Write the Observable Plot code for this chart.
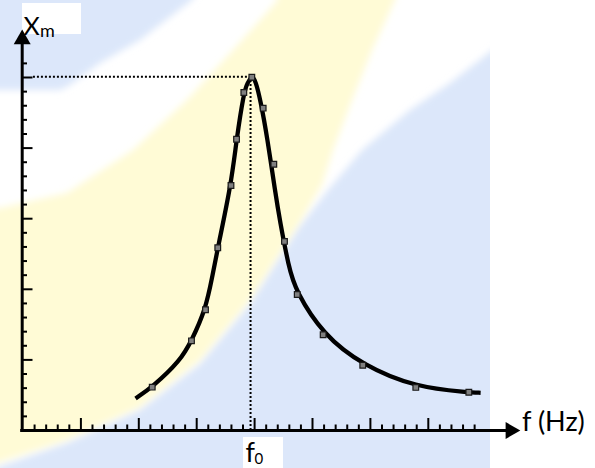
<!DOCTYPE html>
<html>
<head>
<meta charset="utf-8">
<script src="https://cdn.jsdelivr.net/npm/d3@7"></script>
<script src="https://cdn.jsdelivr.net/npm/@observablehq/plot@0.6"></script>
<style>
  html, body { margin: 0; padding: 0; background: #ffffff; }
  #chart { width: 595px; height: 468px; }
</style>
</head>
<body>
<div id="chart"></div>
<script>
// ---- data (frequency and amplitude in tick units) ----
// measured points (square markers)
const markerF = [11.16, 14.55, 15.76, 16.82, 17.96, 18.44, 19.07, 19.76, 20.74, 21.66, 22.58, 23.68, 25.92, 29.34, 33.92, 38.50];
const markerX = [3.07, 6.35, 8.55, 12.94, 17.35, 20.63, 23.94, 25.02, 22.83, 18.86, 13.39, 9.63, 6.78, 4.62, 3.05, 2.71];
// fitted curve (the apex is repeated so the smoothed line stays pointed there)
const curveF = [9.72, 11.16, 13.60, 14.55, 15.76, 16.34, 16.82, 17.96, 18.44, 19.07, 19.39, 19.78, 19.78, 19.78,
                20.08, 20.51, 21.09, 21.80, 22.18, 22.95, 23.53, 25.92, 29.34, 33.92, 38.50, 39.52];
const curveX = [2.27, 3.07, 4.96, 6.35, 8.55, 10.86, 12.94, 17.35, 20.61, 23.94, 24.65, 25.07, 25.07, 25.07,
                24.79, 23.37, 20.77, 16.78, 14.87, 11.57, 9.92, 6.78, 4.62, 3.05, 2.71, 2.67];
const f0 = 19.65;
const Xm = 25.05;
const xTicks = d3.range(1, 40);          // ticks on the f axis (every 5th is long)
const yTicks = d3.range(1, 27);          // ticks on the X axis (every 5th is long)
const labelY = "X", labelYSub = "m";
const labelX = "f (Hz)";
const labelF0 = "f", labelF0Sub = "0";
const xAxisEnd = 42.1, yAxisEnd = 27.7;

const markers = markerF.map((f, i) => ({f, x: markerX[i]}));
const curve = curveF.map((f, i) => ({f, x: curveX[i]}));

const W = 595, H = 468;
const mL = 22.5, mB = 38;
const plotH = H - mB;

// decorative background (soft coloured watermark shapes + label boxes)
function background() {
  const g = d3.create("svg:g");
  const defs = g.append("defs");
  defs.append("filter").attr("id", "soft").attr("filterUnits", "userSpaceOnUse")
    .attr("x", -100).attr("y", -100).attr("width", 800).attr("height", 700)
    .append("feGaussianBlur").attr("stdDeviation", 3.5);
  defs.append("clipPath").attr("id", "clipBg").append("rect")
    .attr("x", 0).attr("y", 0).attr("width", 490).attr("height", H);
  const outer = g.append("g").attr("clip-path", "url(#clipBg)");
  const inner = outer.append("g").attr("filter", "url(#soft)");
  const blue = "#dce7fa", yellow = "#fffbd6";
  const poly = (pts, fill) => inner.append("polygon").attr("points", pts.map(p => p.join(",")).join(" ")).attr("fill", fill);
  poly([[-40,-40],[215,-40],[192,0],[140,40],[100,63],[70,85],[60,90],[-40,90]], blue);
  poly([[270,-40],[410,-40],[395,0],[372,50],[352,100],[333,150],[322,185],[300,222],[250,300],[200,360],[140,407],[67,440],[-40,475],[-40,210],[0,208],[67,193],[133,150],[187,100],[233,50],[278,0]], yellow);
  poly([[540,20],[540,520],[-40,520],[-40,480],[67,443],[140,410],[200,364],[250,304],[300,226],[328,190],[362,150],[410,110],[450,83],[490,52],[540,20]], blue);
  g.append("rect").attr("x", 22).attr("y", 3).attr("width", 59).attr("height", 31).attr("fill", "#fff");
  g.append("rect").attr("x", 243).attr("y", 437).attr("width", 40).attr("height", 35).attr("fill", "#fff");
  return g.node();
}

const font = "Lato, 'Open Sans', 'DejaVu Sans', sans-serif";
const dots = {stroke: "black", strokeWidth: 2, strokeDasharray: "2,2"};

const chart = Plot.plot({
  width: W,
  height: H,
  marginLeft: mL,
  marginRight: 0,
  marginTop: 0,
  marginBottom: mB,
  style: {background: "transparent", fontFamily: font},
  x: {domain: [0, (W - mL) / 11.58], axis: null},
  y: {domain: [0, plotH / 14.12], axis: null},
  marks: [
    background,
    // dotted guides to the peak
    Plot.ruleY([Xm], {x1: 0.9, x2: f0, ...dots}),
    Plot.ruleX([f0], {y1: 0, y2: Xm, ...dots}),
    // short / long ticks
    Plot.tickY(yTicks.filter(d => d % 5 !== 0), {y: d => d, stroke: "black", strokeWidth: 2, insetRight: W - mL - 4.5}),
    Plot.tickY(yTicks.filter(d => d % 5 === 0), {y: d => d, stroke: "black", strokeWidth: 2, insetRight: W - mL - 10}),
    Plot.tickX(xTicks.filter(d => d % 5 !== 0), {x: d => d, stroke: "black", strokeWidth: 2, insetTop: plotH - 5.5}),
    Plot.tickX(xTicks.filter(d => d % 5 === 0), {x: d => d, stroke: "black", strokeWidth: 2, insetTop: plotH - 12}),
    // axes with arrowheads
    Plot.ruleX([0], {y1: -0.1, y2: yAxisEnd, stroke: "black", strokeWidth: 3, dx: -0.8}),
    Plot.ruleY([0], {x1: -0.2, x2: xAxisEnd, stroke: "black", strokeWidth: 3}),
    Plot.dot([0], {x: 0, y: yAxisEnd, dx: -0.8, symbol: "triangle", r: 6.3, fill: "black", stroke: null}),
    Plot.dot([0], {x: xAxisEnd, y: 0, symbol: "triangle", rotate: 90, r: 6.3, fill: "black", stroke: null}),
    // resonance curve and measured points
    Plot.line(curve, {x: "f", y: "x", curve: "basis", stroke: "black", strokeWidth: 4.3, strokeLinecap: "butt", strokeLinejoin: "round"}),
    Plot.dot(markers, {x: "f", y: "x", symbol: "square", r: 3.2, fill: "#7f7f7f", stroke: "#1a1a1a", strokeWidth: 1.2}),
    // labels
    Plot.text([labelY], {x: 0, y: yAxisEnd, text: d => d, textAnchor: "start", lineAnchor: "bottom", dx: 0.5, dy: -4.5, fontSize: 25, fill: "black"}),
    Plot.text([labelYSub], {x: 0, y: yAxisEnd, text: d => d, textAnchor: "start", lineAnchor: "bottom", dx: 17, dy: -2.8, fontSize: 18, fill: "black"}),
    Plot.text([labelX], {x: xAxisEnd, y: 0, text: d => d, textAnchor: "start", lineAnchor: "bottom", dx: 11.5, dy: 0, fontSize: 27, fill: "black"}),
    Plot.text([labelF0], {x: f0, y: 0, text: d => d, textAnchor: "start", lineAnchor: "bottom", dx: -5, dy: 31.5, fontSize: 27, fill: "black"}),
    Plot.text([labelF0Sub], {x: f0, y: 0, text: d => d, textAnchor: "start", lineAnchor: "bottom", dx: 4, dy: 33.5, fontSize: 15, fill: "black"})
  ]
});

document.getElementById("chart").appendChild(chart);
</script>
</body>
</html>
